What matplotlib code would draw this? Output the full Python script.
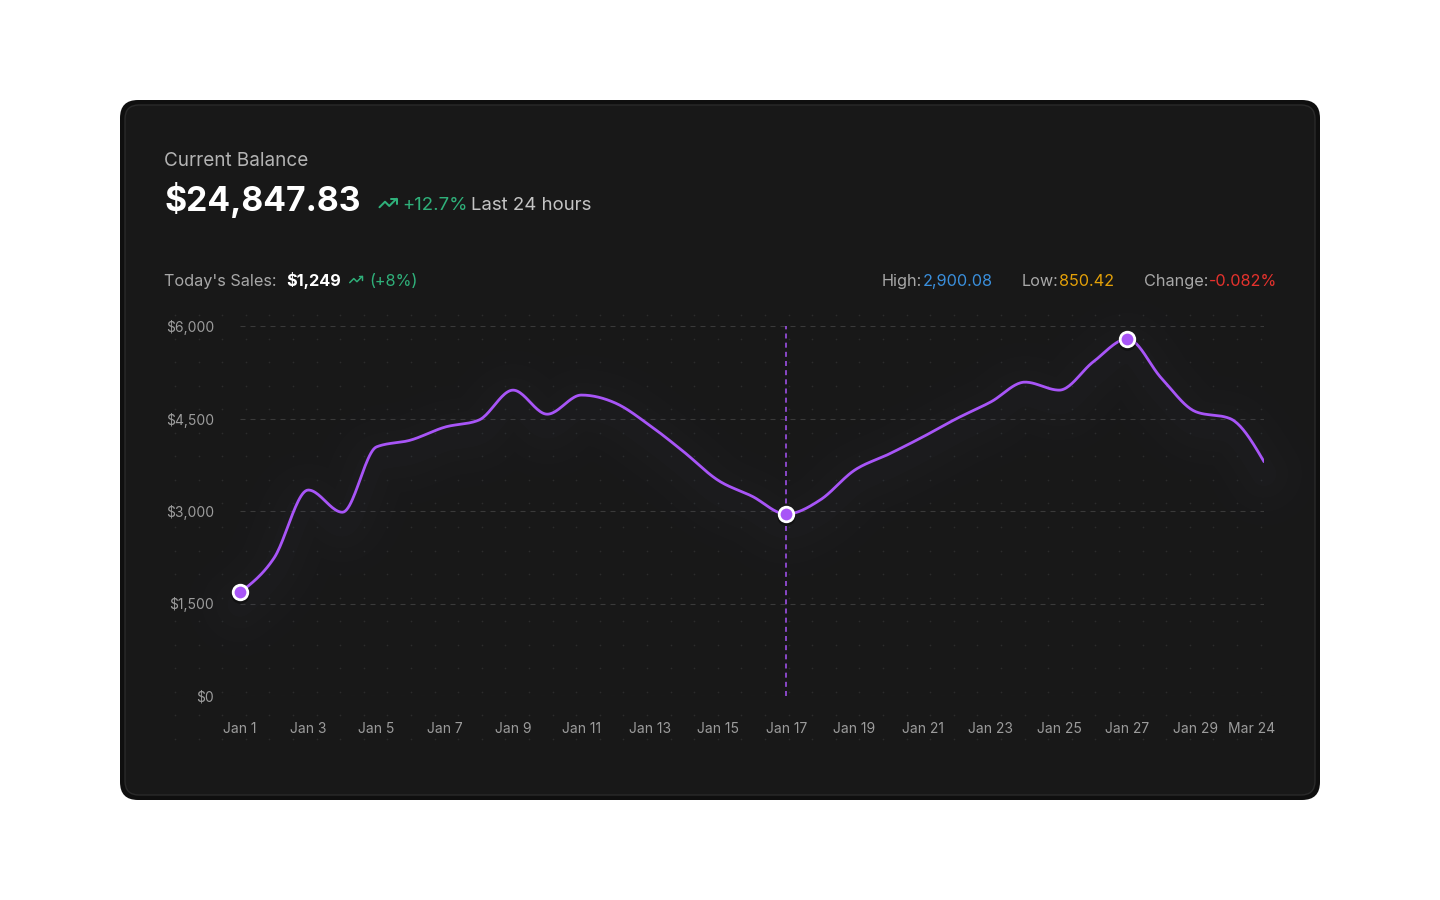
import numpy as np
import matplotlib
matplotlib.use('Agg')
import matplotlib.pyplot as plt
import matplotlib.transforms as mtransforms
from matplotlib.patches import FancyBboxPatch

# balance per day (31 points, last one labelled "Mar 24")
days = ['Jan %d' % d for d in range(1, 31)] + ['Mar 24']
balance = [1680, 2240, 3340, 2980, 4040, 4150, 4360, 4475, 4960, 4570,
           4880, 4750, 4390, 3960, 3500, 3240, 2950, 3180, 3660, 3920,
           4200, 4500, 4770, 5090, 4960, 5420, 5790, 5150, 4610, 4500, 3800]
marked = [0, 16, 26]
cursor_day = 16
yticks = [0, 1500, 3000, 4500, 6000]
ytick_labels = ['$0', '$1,500', '$3,000', '$4,500', '$6,000']
xtick_idx = list(range(0, 29, 2)) + [30]

stat_labels = ['High:', 'Low:', 'Change:']
stat_values = ['2,900.08', '850.42', '-0.082%']
stat_colors = ['#3a8fdc', '#e3a008', '#e5322d']

LINE = '#a855f7'
GREEN = '#2fb07a'
FONT = ['Inter', 'DejaVu Sans']

plt.rcParams['font.family'] = FONT
plt.rcParams['lines.scale_dashes'] = False


def monotone(x, y, n=24):
    # monotone cubic (same idea as d3 curveMonotoneX)
    x = np.asarray(x, float)
    y = np.asarray(y, float)
    h = np.diff(x)
    s = np.diff(y) / h
    t = np.zeros_like(y)
    for k in range(1, len(y) - 1):
        p = (s[k - 1] * h[k] + s[k] * h[k - 1]) / (h[k - 1] + h[k])
        t[k] = (np.sign(s[k - 1]) + np.sign(s[k])) * min(abs(s[k - 1]), abs(s[k]), 0.5 * abs(p))
    t[0] = (3 * s[0] - t[1]) / 2
    t[-1] = (3 * s[-1] - t[-2]) / 2
    xs, ys = [], []
    for k in range(len(h)):
        u = np.linspace(0, 1, n, endpoint=(k == len(h) - 1))
        h00 = 2 * u**3 - 3 * u**2 + 1
        h10 = u**3 - 2 * u**2 + u
        h01 = -2 * u**3 + 3 * u**2
        h11 = u**3 - u**2
        xs.append(x[k] + u * h[k])
        ys.append(h00 * y[k] + h10 * h[k] * t[k] + h01 * y[k + 1] + h11 * h[k] * t[k + 1])
    return np.concatenate(xs), np.concatenate(ys)


def trend_icon(ax, cx, cy, s, color):
    main = np.array([(22, 7), (13.5, 15.5), (8.5, 10.5), (2, 17)])
    head = np.array([(16, 7), (22, 7), (22, 13)])
    for pts in (main, head):
        ax.plot(cx + (pts[:, 0] - 12) * s, cy + (pts[:, 1] - 12) * s,
                color=color, lw=1.7 * s, solid_capstyle='round',
                solid_joinstyle='round')


fig = plt.figure(figsize=(14.4, 9), dpi=100)
fig.patch.set_facecolor('white')

# background layer in pixel coordinates (y down)
bg = fig.add_axes([0, 0, 1, 1])
bg.set_xlim(0, 1440)
bg.set_ylim(900, 0)
bg.axis('off')

bg.add_patch(FancyBboxPatch((120, 100), 1200, 700,
                            boxstyle='round,pad=0,rounding_size=18',
                            fc='#0f0f0f', ec='none'))
bg.add_patch(FancyBboxPatch((125, 105), 1190, 690,
                            boxstyle='round,pad=0,rounding_size=14',
                            fc='#181818', ec='#2a2a2a', lw=1))

# dot pattern behind the chart
gx, gy = np.meshgrid(175 + 23.6 * np.arange(47), 315 + 23.55 * np.arange(19))
bg.scatter(gx.ravel(), gy.ravel(), s=1.4, color='#2c2c2c', lw=0)

# header
bg.text(164, 166, 'Current Balance', color='#b3b3b3', fontsize=13.6)
bg.text(164, 211, '$24,847.83', color='white', fontsize=24.3, fontweight='bold')
trend_icon(bg, 388, 203, 0.85, GREEN)
bg.text(402, 210, '+12.7%', color=GREEN, fontsize=13.4)
bg.text(471, 210, 'Last 24 hours', color='#c4c4c4', fontsize=13.4)

bg.text(164, 286, "Today's Sales:", color='#a8a8a8', fontsize=11.7)
bg.text(286, 286, '$1,249', color='white', fontsize=11.7, fontweight='bold')
trend_icon(bg, 356, 279.5, 0.63, GREEN)
bg.text(369, 286, '(+8%)', color=GREEN, fontsize=11.7)

for x0, lab, val, col in zip([882, 1022, 1144], stat_labels, stat_values, stat_colors):
    t = bg.text(x0, 286, lab, color='#a8a8a8', fontsize=11.7)
    bg.annotate(val, xy=(1, 0), xycoords=t, va='bottom', ha='left',
                color=col, fontsize=11.7)

# chart
ax = fig.add_axes([240 / 1440, 204 / 900, 1024 / 1440, 370 / 900])
ax.patch.set_alpha(0)
ax.set_xlim(0, len(balance) - 1)
ax.set_ylim(0, 6000)
for sp in ax.spines.values():
    sp.set_visible(False)

for v in yticks:
    ax.axhline(v, color='#3a3a3a', lw=0.8, dashes=(3.6, 3.6), zorder=1)

ax.set_yticks(yticks)
ax.set_yticklabels(ytick_labels)
ax.set_xticks(xtick_idx)
ax.set_xticklabels([days[i] for i in xtick_idx])
ax.tick_params(length=0, colors='#9c9c9c', labelsize=10)
ax.tick_params(axis='y', pad=18.5)
ax.tick_params(axis='x', pad=18.5)
last = ax.get_xticklabels()[-1]
last.set_transform(last.get_transform() +
                   mtransforms.ScaledTranslation(-0.12, 0, fig.dpi_scale_trans))

xs, ys = monotone(range(len(balance)), balance)

# soft glow around the line
glow = ax.transData + mtransforms.ScaledTranslation(0, -0.12, fig.dpi_scale_trans)
for w, a in [(75, 0.012), (55, 0.014), (35, 0.016), (18, 0.018)]:
    ax.plot(xs, ys, color='#5a5e88', lw=w, alpha=a, transform=glow,
            solid_capstyle='round', zorder=1, clip_on=False)

ax.axvline(cursor_day, color=LINE, lw=1.1, dashes=(3.6, 3), zorder=2)
ax.plot(xs, ys, color=LINE, lw=2, zorder=3, solid_capstyle='round')

mx = marked
my = [balance[i] for i in marked]
shadow = ax.transData + mtransforms.ScaledTranslation(0, -0.02, fig.dpi_scale_trans)
ax.scatter(mx, my, s=180, color='black', alpha=0.35, lw=0, zorder=4,
           transform=shadow, clip_on=False)
ax.scatter(mx, my, s=110, color=LINE, edgecolors='white', linewidths=2,
           zorder=5, clip_on=False)

fig.savefig('out.png', dpi=100, facecolor='white')
